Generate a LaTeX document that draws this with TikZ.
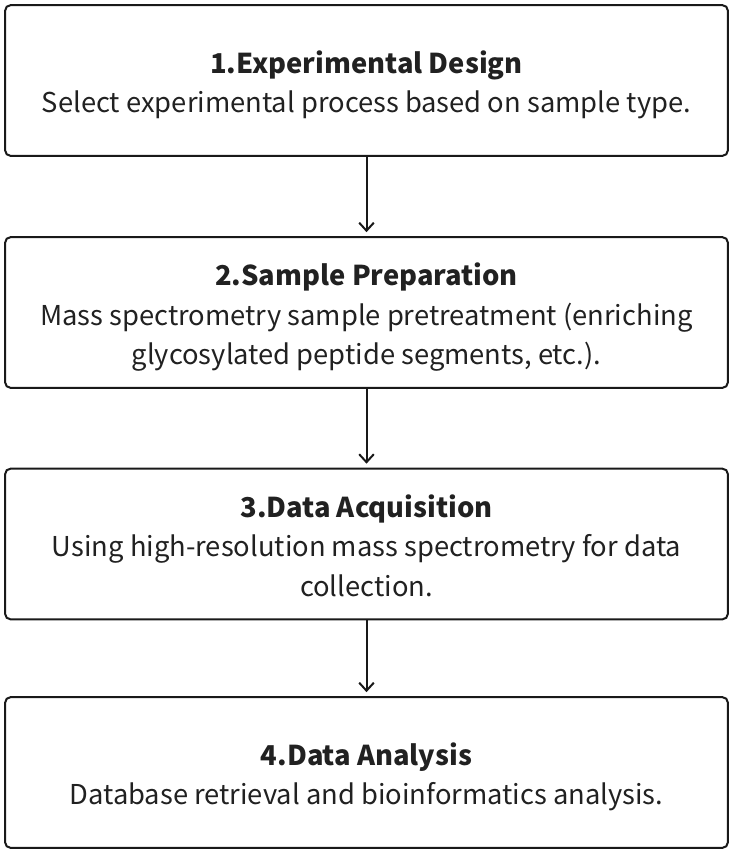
\documentclass[tikz,border=0pt]{standalone}
\usepackage{fontspec}
\setmainfont{Noto Sans CJK SC}
\usetikzlibrary{arrows.meta}

\newcommand{\steptitle}[1]{\rule{0pt}{24pt}\textbf{#1}}
\newcommand{\stepend}{\rule[-5pt]{0pt}{5pt}}

\tikzset{
  stepbox/.style={draw=black!90,line width=1.5pt,rounded corners=4pt,minimum width=542pt,minimum height=113pt,align=center,text=black!87,font=\fontsize{20.5}{29.5}\selectfont},
  flow/.style={-{Straight Barb[length=6pt,width=11pt]},line width=1.5pt,black!90,shorten >=3pt}
}

\begin{document}
\begin{tikzpicture}[x=0.75pt,y=-0.75pt]
			\useasboundingbox (0,0) rectangle (738,858);
			\foreach \y/\gt[count=\i] in {80.5/{\steptitle{1.Experimental Design}\\Select experimental process based on sample type.\stepend},
				312.5/{\steptitle{2.Sample Preparation}\\Mass spectrometry sample pretreatment (enriching\\glycosylated peptide segments, etc.).\stepend},
				544/{\steptitle{3.Data Acquisition}\\Using high-resolution mass spectrometry for data\\collection.\stepend},
				772.5/{\steptitle{4.Data Analysis}\\Database retrieval and bioinformatics analysis.\stepend}}\path (366.5,\y) node[stepbox](s\i){\gt};
			\foreach \a/\b in {1/2,2/3,3/4}\draw[flow] (s\a)--(s\b);
		\end{tikzpicture}
\end{document}
